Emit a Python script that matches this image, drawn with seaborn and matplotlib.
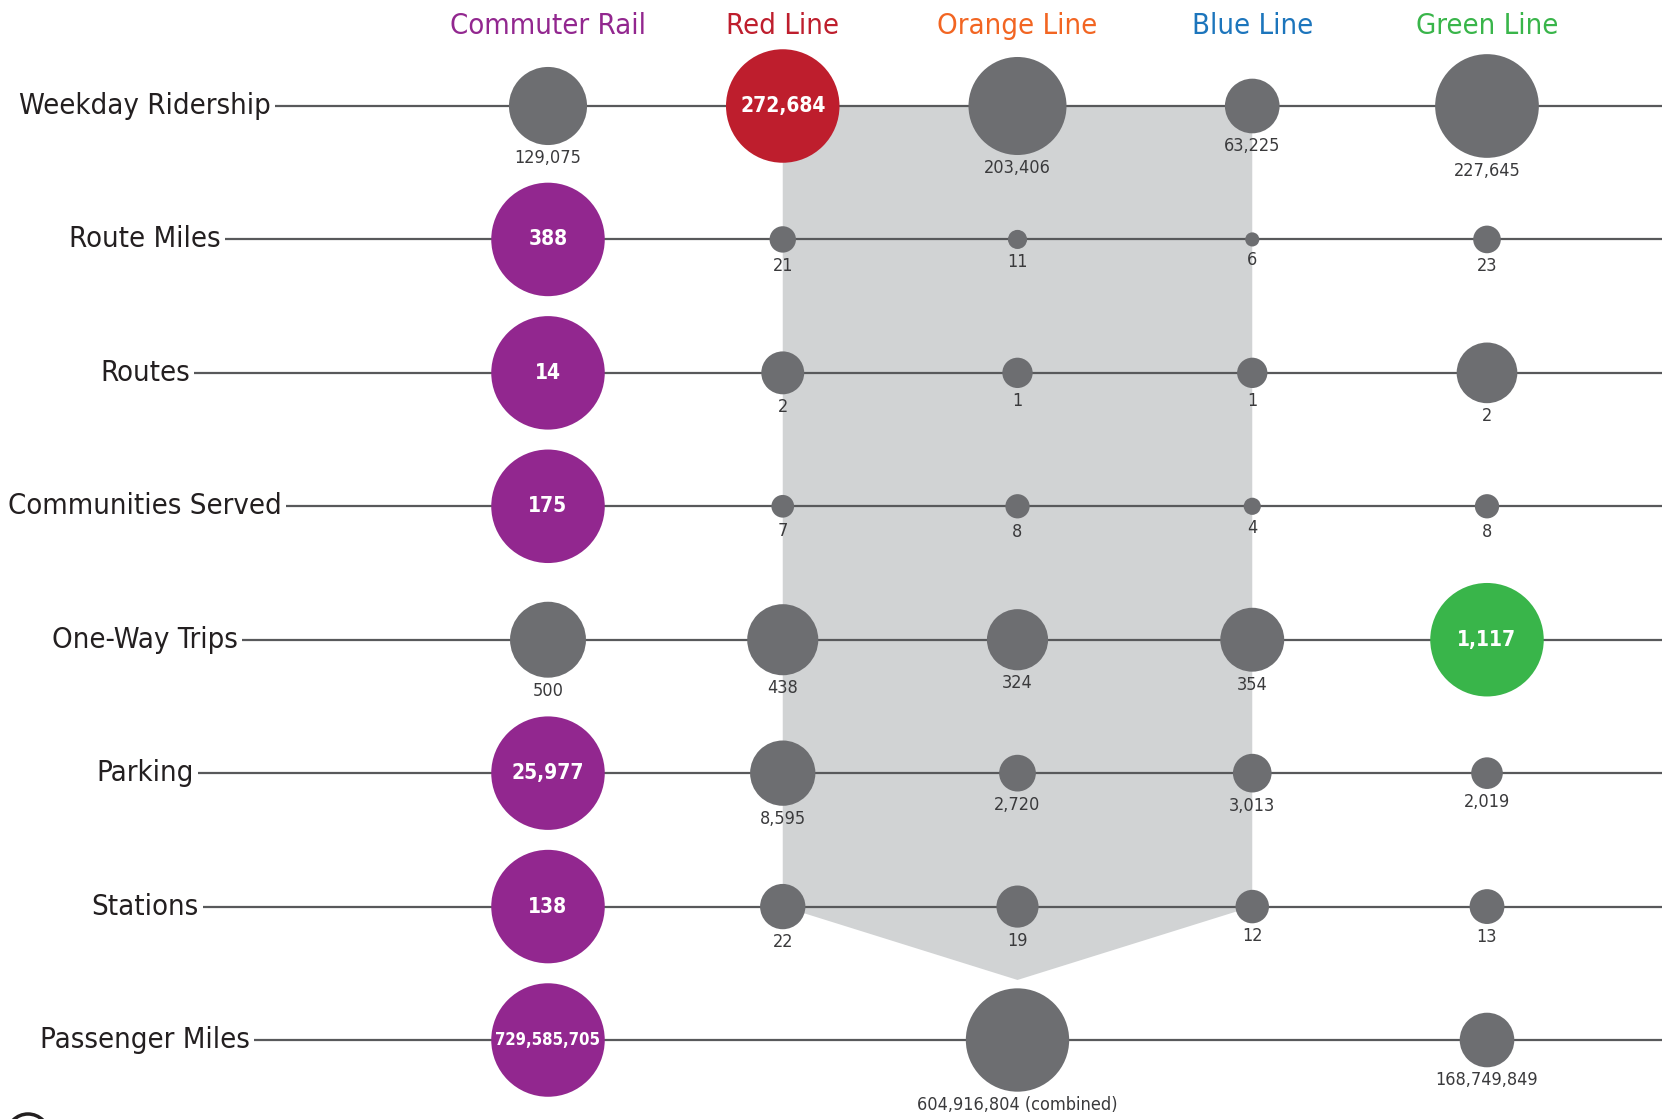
import numpy as np
import pandas as pd
import matplotlib
matplotlib.use("Agg")
import matplotlib.pyplot as plt
import seaborn as sns
from matplotlib.patches import Polygon, Circle

# ---------------- data ----------------
lines = ["Commuter Rail", "Red Line", "Orange Line", "Blue Line", "Green Line"]
metrics = ["Weekday Ridership", "Route Miles", "Routes", "Communities Served",
           "One-Way Trips", "Parking", "Stations", "Passenger Miles"]

weekday_ridership = [129075, 272684, 203406, 63225, 227645]
route_miles = [388, 21, 11, 6, 23]
routes = [14, 2, 1, 1, 2]
communities_served = [175, 7, 8, 4, 8]
one_way_trips = [500, 438, 324, 354, 1117]
parking = [25977, 8595, 2720, 3013, 2019]
stations = [138, 22, 19, 12, 13]
passenger_miles = [729585705, None, 604916804, None, 168749849]
label_notes = {("Passenger Miles", "Orange Line"): " (combined)"}
# the Green Line routes circle is drawn at the size of its 4 branches
marker_overrides = {("Routes", "Green Line"): 4}

# ---------------- style ----------------
line_colors = {"Commuter Rail": "#92278f", "Red Line": "#be1e2d",
               "Orange Line": "#f26522", "Blue Line": "#1c75bc",
               "Green Line": "#39b54a", "other": "#6d6e71"}
GRAY_TEXT = "#3a3a3c"
RULE = "#58595b"
BAND = "#d1d3d4"
DPI = 100
W, H = 1662, 1119
COL0_PX, COL_STEP_PX = 548, 234.75
ROW0_PX, ROW_STEP_PX = 106, 133.43
DMAX_PT = 113.5 * 72 / DPI

sns.set_theme(style="white")
plt.rcParams["font.family"] = ["DejaVu Sans"]
plt.rcParams["font.stretch"] = "condensed"

series = [weekday_ridership, route_miles, routes, communities_served,
          one_way_trips, parking, stations, passenger_miles]
recs = []
for r, (m, vals) in enumerate(zip(metrics, series)):
    sizevals = [marker_overrides.get((m, l), v) if v is not None else None
                for l, v in zip(lines, vals)]
    vmax = max(v for v in vals if v is not None)
    smax = max(v for v in sizevals if v is not None)
    for c, (l, v, sv) in enumerate(zip(lines, vals, sizevals)):
        if v is None:
            continue
        recs.append(dict(metric=m, line=l, row=r, col=c, value=v,
                         share=sv / smax,
                         key=l if v == vmax else "other",
                         label=f"{v:,}" + label_notes.get((m, l), "")))
df = pd.DataFrame(recs)

fig = plt.figure(figsize=(W / DPI, H / DPI), dpi=DPI)
ax = fig.add_axes([0, 0, 1, 1])
ax.set_xlim(-COL0_PX / COL_STEP_PX, (W - COL0_PX) / COL_STEP_PX)
ax.set_ylim((H - ROW0_PX) / ROW_STEP_PX, -ROW0_PX / ROW_STEP_PX)
ax.axis("off")

# grey band connecting subway lines to the combined passenger miles
ax.add_patch(Polygon([(1, 0), (3, 0), (3, 6), (2, 6.55), (1, 6)],
                     closed=True, facecolor=BAND, edgecolor="none", zorder=0))

# row labels and rules
label_x = (145 - COL0_PX) / COL_STEP_PX
texts = []
for r, m in enumerate(metrics):
    t = ax.text(label_x, r, m, ha="center", va="center", fontsize=21,
                color="#231f20", zorder=4)
    texts.append(t)
fig.canvas.draw()
inv = ax.transData.inverted()
for r, t in enumerate(texts):
    bb = t.get_window_extent()
    x0 = inv.transform((bb.x1 + 4, 0))[0]
    ax.plot([x0, ax.get_xlim()[1]], [r, r], color=RULE, lw=1.6, zorder=1,
            solid_capstyle="butt")

# column headers
for c, l in enumerate(lines):
    ax.text(c, (26 - ROW0_PX) / ROW_STEP_PX, l, ha="center", va="center",
            fontsize=21, color=line_colors[l])

# bubbles
sns.scatterplot(data=df, x="col", y="row", size="share",
                sizes=(0, DMAX_PT ** 2), size_norm=(0, 1),
                hue="key", palette=line_colors, legend=False,
                linewidth=0, ax=ax, zorder=3)

# value labels
for _, rw in df.iterrows():
    d_pt = np.sqrt(rw.share) * DMAX_PT
    if rw.key != "other":
        ax.annotate(rw.label, (rw.col, rw.row), ha="center", va="center",
                    fontsize=15 if len(rw.label) < 10 else 12,
                    fontweight="bold", color="white", zorder=5)
    else:
        ax.annotate(rw.label, (rw.col, rw.row), xytext=(0, -(d_pt / 2 + 3)),
                    textcoords="offset points", ha="center", va="top",
                    fontsize=13, color=GRAY_TEXT, zorder=5)

# partially visible icon at the bottom-left edge
fig.add_artist(Circle((0.28, -0.16), 0.21, transform=fig.dpi_scale_trans,
                      facecolor="none", edgecolor="#231f20", lw=2.5))

fig.savefig("out.png", dpi=DPI)
